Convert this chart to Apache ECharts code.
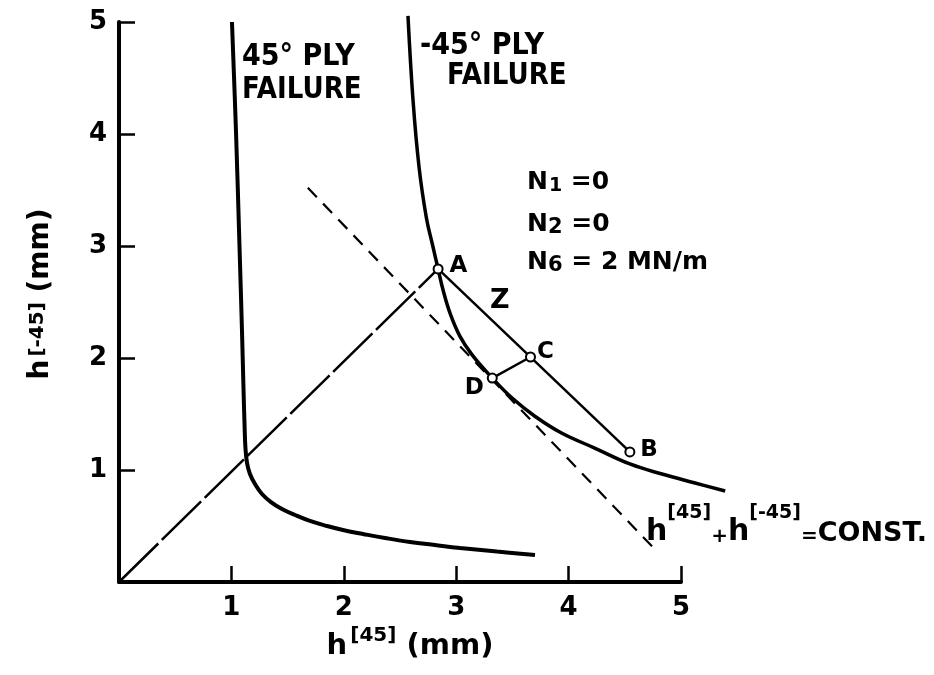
<!DOCTYPE html>
<html><head><meta charset="utf-8">
<script src="https://cdn.jsdelivr.net/npm/echarts@6/dist/echarts.min.js"></script>
<style>html,body{margin:0;padding:0;background:#fff}#c{width:934px;height:675px}</style>
</head><body><div id="c"></div>
<script>
// ---- data ----
const xTicks = [0, 1, 2, 3, 4, 5];
const yTicks = [0, 1, 2, 3, 4, 5];
// 45° ply failure curve
const ply45X = [1.005, 1.041, 1.072, 1.094, 1.108, 1.117, 1.125, 1.139, 1.165, 1.210, 1.272, 1.352, 1.450, 1.566, 1.699, 1.851, 2.011, 2.171, 2.367, 2.589, 2.811, 3.034, 3.363, 3.701];
const ply45Y = [5.0, 4.018, 3.0, 2.25, 1.714, 1.402, 1.196, 1.063, 0.964, 0.875, 0.786, 0.714, 0.652, 0.598, 0.545, 0.500, 0.460, 0.429, 0.393, 0.357, 0.330, 0.304, 0.272, 0.241];
// -45° ply failure curve
const plyM45X = [2.571, 2.616, 2.67, 2.735, 2.787, 2.839, 2.885, 2.945, 3.03, 3.14, 3.321, 3.5, 3.7, 3.937, 4.232, 4.545, 4.830, 5.125, 5.393];
const plyM45Y = [5.054, 4.3, 3.7, 3.25, 3.02, 2.795, 2.6, 2.4, 2.2, 2.03, 1.821, 1.64, 1.48, 1.330, 1.196, 1.054, 0.964, 0.884, 0.8125];
// h[45] + h[-45] = const dashed line
const constX = [1.68, 4.76];
const constY = [3.52, 0.30];
// labelled points
const pointNames = ['A', 'B', 'C', 'D'];
const pointX = [2.839, 4.545, 3.661, 3.321];
const pointY = [2.795, 1.161, 2.009, 1.821];

// ---- build ----
const zip = (xs, ys) => xs.map((x, i) => [x, ys[i]]);
const P = {}; pointNames.forEach((n, i) => P[n] = [pointX[i], pointY[i]]);
const FONT = '"DejaVu Sans", sans-serif';
const labelCfg = {
  A: {position: 'right', offset: [1, -3]},
  B: {position: 'right', offset: [0, -2]},
  C: {position: 'right', offset: [-4, -5]},
  D: {position: 'left', offset: [2, 10]}
};

// layout: main plot 0..5 on both axes; an overlay grid with the same scale
// but a wider extent holds the -45° curve, which runs past the axis ends.
const L = 119, T = 22, W = 562, H = 560;
const ux = W / 5, uy = H / 5;
const extX = 5.5, extY = 5.1;

const chart = echarts.init(document.getElementById('c'), null, {renderer: 'canvas'});
const axisCommon = {
  type: 'value', min: 0, max: 5, interval: 1,
  axisLine: {show: true, onZero: false, lineStyle: {color: '#000', width: 4}},
  axisTick: {show: true, inside: true, length: 16, lineStyle: {color: '#000', width: 2.5}},
  splitLine: {show: false},
  axisLabel: {color: '#000', fontSize: 26, fontWeight: 'bold', fontFamily: FONT,
    formatter: v => (v === 0 ? '' : String(v))}
};
const hiddenAxis = {type: 'value', min: 0, show: false, splitLine: {show: false}};
const option = {
  animation: false,
  backgroundColor: '#fff',
  grid: [
    {left: L, top: T, width: W, height: H},
    {left: L, top: T - (extY - 5) * uy, width: extX * ux, height: extY * uy}
  ],
  xAxis: [Object.assign({}, axisCommon, {
    gridIndex: 0, min: xTicks[0], max: xTicks[xTicks.length - 1],
    axisLabel: Object.assign({}, axisCommon.axisLabel, {margin: 13}),
    name: '{h|h}{s|[45]}{m| (mm)}', nameLocation: 'middle', nameGap: 41,
    nameTextStyle: {color: '#000', fontFamily: FONT, padding: [0, 0, 0, 20], rich: {
      h: {fontSize: 29, fontWeight: 'bold', fontFamily: FONT, color: '#000', verticalAlign: 'bottom', lineHeight: 32},
      s: {fontSize: 20, fontWeight: 'bold', fontFamily: FONT, color: '#000', verticalAlign: 'bottom', lineHeight: 20, padding: [0, 0, 15, 3]},
      m: {fontSize: 29, fontWeight: 'bold', fontFamily: FONT, color: '#000', verticalAlign: 'bottom', lineHeight: 32}
    }}
  }), Object.assign({}, hiddenAxis, {gridIndex: 1, max: extX})],
  yAxis: [Object.assign({}, axisCommon, {
    gridIndex: 0, min: yTicks[0], max: yTicks[yTicks.length - 1],
    axisLabel: Object.assign({}, axisCommon.axisLabel, {margin: 12}),
    name: '{h|h}{s|[-45]}{m| (mm)}', nameLocation: 'middle', nameGap: 64, nameRotate: 90,
    nameTextStyle: {color: '#000', fontFamily: FONT, padding: [0, 0, 0, 16], rich: {
      h: {fontSize: 28, fontWeight: 'bold', fontFamily: FONT, color: '#000', verticalAlign: 'bottom', lineHeight: 30},
      s: {fontSize: 20, fontWeight: 'bold', fontFamily: FONT, color: '#000', verticalAlign: 'bottom', lineHeight: 20, padding: [0, 0, 7, 3]},
      m: {fontSize: 28, fontWeight: 'bold', fontFamily: FONT, color: '#000', verticalAlign: 'bottom', lineHeight: 30}
    }}
  }), Object.assign({}, hiddenAxis, {gridIndex: 1, max: extY})],
  series: [
    {type: 'line', name: '45° ply failure', data: zip(ply45X, ply45Y), showSymbol: false, smooth: 0.4,
      clip: false, lineStyle: {color: '#000', width: 4}},
    {type: 'line', name: '-45° ply failure', xAxisIndex: 1, yAxisIndex: 1, data: zip(plyM45X, plyM45Y),
      showSymbol: false, smooth: 0.4, clip: false, lineStyle: {color: '#000', width: 3.5}},
    {type: 'line', name: 'O-A', data: [[0, 0], P.A], showSymbol: false,
      lineStyle: {color: '#000', width: 2.5, type: [55, 5]}},
    {type: 'line', name: 'A-B', data: [P.A, P.B], showSymbol: false,
      lineStyle: {color: '#000', width: 2.5}},
    {type: 'line', name: 'C-D', data: [P.C, P.D], showSymbol: false,
      lineStyle: {color: '#000', width: 2.5}},
    {type: 'line', name: 'const', data: zip(constX, constY), showSymbol: false,
      lineStyle: {color: '#000', width: 2.2, type: [13, 9]}},
    {type: 'scatter', name: 'points', symbol: 'circle', symbolSize: 9, z: 5,
      itemStyle: {color: '#fff', borderColor: '#000', borderWidth: 2, opacity: 1},
      data: pointNames.map((n, i) => ({name: n, value: [pointX[i], pointY[i]],
        label: Object.assign({show: true, formatter: n, color: '#000', fontSize: 23, fontWeight: 'bold', fontFamily: FONT}, labelCfg[n])}))
    }
  ],
  graphic: [
    {type: 'text', x: 242, y: 42, scaleX: 0.9, style: {text: '45° PLY', font: 'bold 30px ' + FONT, fill: '#000'}},
    {type: 'text', x: 242, y: 75, scaleX: 0.87, style: {text: 'FAILURE', font: 'bold 30px ' + FONT, fill: '#000'}},
    {type: 'text', x: 420, y: 31, scaleX: 0.9, style: {text: '-45° PLY', font: 'bold 30px ' + FONT, fill: '#000'}},
    {type: 'text', x: 447, y: 61, scaleX: 0.87, style: {text: 'FAILURE', font: 'bold 30px ' + FONT, fill: '#000'}},
    {type: 'text', x: 490, y: 287, style: {text: 'Z', font: 'bold 27px ' + FONT, fill: '#000'}},
    {type: 'text', x: 527, y: 170, style: {text: '{n|N}{b|1}{n| =0}', rich: {
      n: {fontSize: 25, fontWeight: 'bold', fontFamily: FONT, fill: '#000', verticalAlign: 'top', lineHeight: 26},
      b: {fontSize: 19, fontWeight: 'bold', fontFamily: FONT, fill: '#000', verticalAlign: 'bottom', lineHeight: 20, padding: [12, 0, 0, 1]}
    }}},
    {type: 'text', x: 527, y: 212, style: {text: '{n|N}{b|2}{n| =0}', rich: {
      n: {fontSize: 25, fontWeight: 'bold', fontFamily: FONT, fill: '#000', verticalAlign: 'top', lineHeight: 26},
      b: {fontSize: 21, fontWeight: 'bold', fontFamily: FONT, fill: '#000', verticalAlign: 'bottom', lineHeight: 22, padding: [12, 0, 0, 0]}
    }}},
    {type: 'text', x: 527, y: 250, style: {text: '{n|N}{b|6}{n| = 2 MN/m}', rich: {
      n: {fontSize: 25, fontWeight: 'bold', fontFamily: FONT, fill: '#000', verticalAlign: 'top', lineHeight: 26},
      b: {fontSize: 21, fontWeight: 'bold', fontFamily: FONT, fill: '#000', verticalAlign: 'bottom', lineHeight: 22, padding: [12, 0, 0, 0]}
    }}},
    {type: 'text', x: 646, y: 513, style: {text: '{h|h}{s|[45]}{o|+}{h|h}{s|[-45]}{o|=}{c|CONST.}', rich: {
      h: {fontSize: 30, fontWeight: 'bold', fontFamily: FONT, fill: '#000', verticalAlign: 'bottom', lineHeight: 34},
      s: {fontSize: 19, fontWeight: 'bold', fontFamily: FONT, fill: '#000', verticalAlign: 'bottom', lineHeight: 20, padding: [0, 0, 24, 0]},
      o: {fontSize: 20, fontWeight: 'bold', fontFamily: FONT, fill: '#000', verticalAlign: 'bottom', lineHeight: 30},
      c: {fontSize: 27, fontWeight: 'bold', fontFamily: FONT, fill: '#000', verticalAlign: 'bottom', lineHeight: 32}
    }}}
  ]
};
chart.setOption(option);
</script>
</body></html>
